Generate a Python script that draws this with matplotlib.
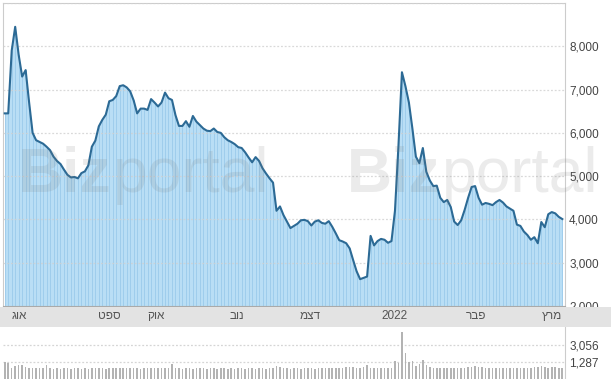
import matplotlib
matplotlib.use('Agg')
import matplotlib.pyplot as plt
import matplotlib.transforms as mtransforms
from matplotlib.patches import Rectangle
import numpy as np

plt.rcParams['font.family'] = ['Liberation Sans', 'DejaVu Sans']

# daily closing price (one point per trading day, Aug 2021 - Mar 2022)
price = [
    6450, 6450, 7900, 8450, 7800, 7300, 7450, 6700, 6000, 5830,
    5790, 5750, 5680, 5600, 5450, 5350, 5280, 5150, 5030, 4970,
    4980, 4950, 5070, 5110, 5250, 5680, 5820, 6150, 6300, 6420,
    6730, 6760, 6850, 7080, 7100, 7050, 6960, 6750, 6450, 6560,
    6560, 6530, 6780, 6700, 6610, 6700, 6930, 6800, 6760, 6410,
    6160, 6160, 6270, 6140, 6390, 6260, 6180, 6100, 6050, 6040,
    6100, 6020, 6000, 5900, 5830, 5790, 5740, 5670, 5650, 5550,
    5430, 5320, 5440, 5350, 5180, 5060, 4950, 4850, 4200, 4300,
    4100, 3950, 3800, 3850, 3900, 3980, 3990, 3960, 3860, 3950,
    3980, 3920, 3900, 3960, 3830, 3680, 3520, 3490, 3450, 3330,
    3060, 2800, 2620, 2650, 2680, 3620, 3400, 3500, 3550, 3530,
    3460, 3500, 4200, 5700, 7400, 7080, 6700, 6100, 5450, 5300,
    5650, 5100, 4900, 4770, 4780, 4500, 4400, 4450, 4290, 3950,
    3870, 3980, 4220, 4500, 4750, 4770, 4500, 4340, 4380, 4360,
    4330, 4400, 4450, 4390, 4300, 4250, 4200, 3880, 3850, 3720,
    3640, 3530, 3590, 3450, 3940, 3820, 4120, 4170, 4140, 4060,
    4010,
]

# daily volume
volume = [
    1300, 1200, 700, 900, 1000, 1000, 800, 700, 700, 750,
    700, 700, 1000, 700, 650, 700, 650, 700, 700, 650,
    700, 700, 650, 700, 650, 700, 700, 750, 700, 650,
    700, 700, 700, 750, 700, 700, 750, 700, 700, 650,
    700, 700, 750, 700, 700, 700, 750, 700, 1100, 700,
    700, 650, 700, 700, 650, 700, 700, 700, 650, 700,
    700, 650, 700, 700, 650, 700, 650, 700, 700, 650,
    700, 700, 650, 700, 700, 650, 700, 750, 900, 800,
    700, 700, 650, 700, 700, 650, 700, 700, 700, 650,
    700, 700, 700, 750, 700, 700, 750, 750, 800, 800,
    850, 700, 750, 800, 1050, 750, 700, 700, 700, 750,
    700, 750, 1400, 1200, 4400, 2300, 1300, 1400, 900, 1100,
    1560, 1050, 800, 750, 750, 700, 750, 700, 700, 700,
    700, 750, 750, 800, 850, 900, 850, 800, 750, 700,
    750, 700, 700, 750, 700, 700, 750, 700, 700, 700,
    750, 700, 800, 850, 900, 800, 750, 800, 800, 750,
    750,
]

month_labels = ['אוג', 'ספט', 'אוק', 'נוב', 'דצמ', '2022', 'פבר', 'מרץ']
month_pos = [4.3, 30, 43.4, 66.6, 87.7, 112, 135.4, 157]

price_ticks = [2000, 3000, 4000, 5000, 6000, 7000, 8000]
vol_ticks = [1287, 3056]

W, H = 611, 379
fig = plt.figure(figsize=(W / 100, H / 100), dpi=100)
fig.patch.set_facecolor('white')

x = np.arange(len(price))

# grey date band
fig.patches.append(Rectangle((0, 52 / H), 1, 20 / H, transform=fig.transFigure,
                             facecolor='#e3e3e3', edgecolor='none', zorder=0))

ax = fig.add_axes([3 / W, 73 / H, 562 / W, 303 / H])
ax.set_xlim(-0.5, len(price) - 0.2)
ax.set_ylim(2000, 9000)
ax.fill_between(x, price, 2000, color='#b9def5', linewidth=0, zorder=1)
ax.vlines(x, 2000, price, color='#9fcdec', linewidth=0.7, zorder=2)
for lvl in range(3000, 9001, 1000):
    ax.axhline(lvl, color='#d0d0d0', linestyle=(0, (1.5, 1.5)), linewidth=0.9,
               alpha=0.8, zorder=3)
ax.plot(x, price, color='#2c6a95', linewidth=1.5, zorder=4)

ax.set_xticks([])
ax.yaxis.tick_right()
ax.set_yticks(price_ticks)
ax.set_yticklabels([f'{v:,}' for v in price_ticks])
ax.tick_params(axis='y', length=0, pad=3, labelsize=8.5, labelcolor='#444444')
for s in ['left', 'top', 'right']:
    ax.spines[s].set_color('#cccccc')
ax.spines['bottom'].set_color('#aaaaaa')

# volume panel
vax = fig.add_axes([3 / W, 0, 562 / W, 52 / H])
floor = -420
vax.set_xlim(-0.5, len(price) - 0.2)
vax.set_ylim(floor, 4930)
vax.bar(x, np.array(volume) - floor, bottom=floor, width=0.45,
        color='#b3b3b3', linewidth=0, zorder=2)
for lvl in vol_ticks:
    vax.axhline(lvl, color='#d5d5d5', linestyle=(0, (1.5, 1.5)), linewidth=0.9,
                zorder=1)
vax.set_xticks([])
vax.yaxis.tick_right()
vax.set_yticks(vol_ticks)
vax.set_yticklabels([f'{v:,}' for v in vol_ticks])
vax.tick_params(axis='y', length=0, pad=3, labelsize=8.5, labelcolor='#444444')
for s in ['left', 'top', 'bottom']:
    vax.spines[s].set_visible(False)
vax.spines['right'].set_color('#cccccc')

# month labels in the band (hebrew reversed for visual order)
trans = mtransforms.blended_transform_factory(ax.transData, fig.transFigure)
for lab, p in zip(month_labels, month_pos):
    txt = lab if lab.isdigit() else lab[::-1]
    fig.text(p, (H - 316) / H, txt, transform=trans, ha='center', va='center',
             fontsize=8.5, color='#555555')

# watermark
for left in [18, 347]:
    t1 = fig.text(left / W, (H - 192) / H, 'Biz', fontsize=45, fontweight='bold',
                  color='#7a7a7a', alpha=0.15, va='baseline', ha='left', zorder=10)
    fig.text((left + 95) / W, (H - 192) / H, 'portal', fontsize=45,
             color='#7a7a7a', alpha=0.15, va='baseline', ha='left', zorder=10)

fig.savefig('out.png', dpi=100)
